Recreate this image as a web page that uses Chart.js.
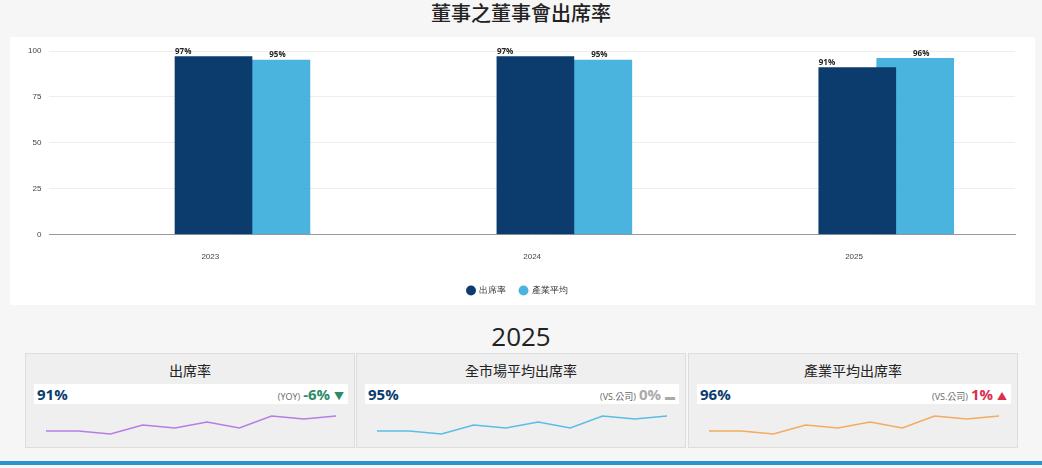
<!DOCTYPE html>
<html><head><meta charset="utf-8">
<script src="https://cdn.jsdelivr.net/npm/chart.js@4"></script>
<style>
body{margin:0;width:1042px;height:468px;background:#f6f6f6;font-family:"Open Sans","Noto Sans CJK TC",sans-serif;position:relative;overflow:hidden}
h1{position:absolute;top:-2px;left:0;width:1042px;text-align:center;font-size:20px;font-weight:500;margin:0;color:#222;font-family:"Noto Sans CJK TC",sans-serif}
#panel{position:absolute;left:10px;top:37px;width:1025px;height:268px;background:#fff}
#yr{position:absolute;top:318px;width:1042px;text-align:center;font-size:26px;color:#222}
.card{position:absolute;top:353px;height:95px;width:330px;background:#efefef;border:1px solid #ddd;box-sizing:border-box}
.card .t{text-align:center;font-size:14px;margin-top:6px;color:#222;font-family:"Noto Sans CJK TC",sans-serif}
.card .bar{position:absolute;left:8px;top:30px;width:314px;height:20px;background:#fff}
.card .v{position:absolute;left:3px;top:0;font-size:15px;font-weight:bold;color:#0b3c6d;line-height:20px}
.card .d{position:absolute;right:4px;top:0;line-height:20px;font-size:15px;font-weight:bold}
.card .d small{font-size:9px;font-weight:normal;color:#666;margin-right:3px}
.card .sp{position:absolute;left:20px;top:56px;width:290px;height:30px}
#line{position:absolute;left:0;top:461px;width:1042px;height:4px;background:#2a93cf}
</style></head><body>
<h1>董事之董事會出席率</h1>
<div id="panel"><canvas id="main"></canvas></div>
<div id="yr">2025</div>
<div class="card" style="left:25px"><div class="t">出席率</div><div class="bar"><span class="v">91%</span><span class="d" style="color:#2e8b6a"><small>(YOY)</small>-6% <span style="font-size:10px">▼</span></span></div><div class="sp"><canvas id="s0"></canvas></div></div>
<div class="card" style="left:356px"><div class="t">全市場平均出席率</div><div class="bar"><span class="v">95%</span><span class="d" style="color:#aaa"><small>(VS.公司)</small>0% <span style="font-size:10px">▬</span></span></div><div class="sp"><canvas id="s1"></canvas></div></div>
<div class="card" style="left:688px"><div class="t">產業平均出席率</div><div class="bar"><span class="v">96%</span><span class="d" style="color:#d9304f"><small>(VS.公司)</small>1% <span style="font-size:10px">▲</span></span></div><div class="sp"><canvas id="s2"></canvas></div></div>
<div id="line"></div>
<script>
const years = ['2023', '2024', '2025'];
const attendance = [97, 97, 91];
const industryAvg = [95, 95, 96];
const yTicks = [0, 25, 50, 75, 100];
const sparkValues = [3, 3, 2, 5, 4, 6, 4, 8, 7, 8];
const sparkColors = ['#b77de6', '#5bbde6', '#f5aa62'];

const labelPlugin = {
  id: 'labels',
  afterDatasetsDraw(chart) {
    const ctx = chart.ctx;
    ctx.save();
    ctx.font = 'bold 8px "Open Sans"';
    ctx.fillStyle = '#222';
    ctx.textBaseline = 'bottom';
    chart.data.datasets.forEach((ds, di) => {
      chart.getDatasetMeta(di).data.forEach((bar, i) => {
        ctx.textAlign = di === 0 ? 'left' : 'center';
        const x = di === 0 ? bar.x - bar.width / 2 : bar.x + 6;
        ctx.fillText(ds.data[i].y + '%', x, bar.y - 1);
      });
    });
    ctx.restore();
  }
};

new Chart(document.getElementById('main'), {
  type: 'bar',
  data: {
    datasets: [
      { label: '出席率', data: attendance.map((v, i) => ({ x: i + 0.01, y: v })), backgroundColor: '#0b3c6d', barThickness: 77 },
      { label: '產業平均', data: industryAvg.map((v, i) => ({ x: i + 0.19, y: v })), backgroundColor: 'rgba(42,167,216,0.85)', barThickness: 77 }
    ]
  },
  options: {
    responsive: true, maintainAspectRatio: false, animation: false,
    grouped: false,
    layout: { padding: { left: 10, right: 20, top: 14, bottom: 0 } },
    scales: {
      x: {
        type: 'linear', min: -0.5, max: 2.5, offset: false,
        afterBuildTicks: a => { a.ticks = years.map((_, i) => ({ value: i })); },
        ticks: { callback: v => years[v], color: '#444', font: { size: 8 }, padding: 10 },
        grid: { display: false }, border: { color: '#999' }
      },
      y: {
        min: 0, max: 100,
        afterBuildTicks: a => { a.ticks = yTicks.map(v => ({ value: v })); },
        ticks: { color: '#444', font: { size: 8 }, padding: 8 },
        grid: { color: '#eee', drawTicks: false }, border: { display: false }
      }
    },
    plugins: {
      legend: {
        position: 'bottom',
        labels: { usePointStyle: true, pointStyle: 'circle', boxWidth: 7, boxHeight: 7, color: '#333', font: { size: 9 }, padding: 14 }
      },
      tooltip: { enabled: false }
    }
  },
  plugins: [labelPlugin]
});

sparkColors.forEach((c, k) => {
  new Chart(document.getElementById('s' + k), {
    type: 'line',
    data: { labels: sparkValues.map((_, i) => i), datasets: [{ data: sparkValues, borderColor: c, borderWidth: 1.5, pointRadius: 0, tension: 0 }] },
    options: {
      responsive: true, maintainAspectRatio: false, animation: false,
      scales: { x: { display: false }, y: { display: false, min: 0, max: 10 } },
      plugins: { legend: { display: false }, tooltip: { enabled: false } }
    }
  });
});
</script>
</body></html>
